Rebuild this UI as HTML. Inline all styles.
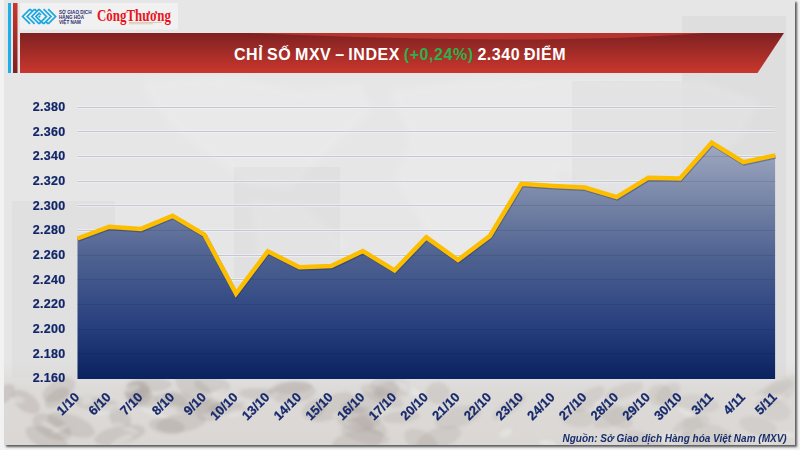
<!DOCTYPE html>
<html><head><meta charset="utf-8"><style>
html,body{margin:0;padding:0;}
body{width:800px;height:450px;overflow:hidden;position:relative;background:#f2f2f2;font-family:"Liberation Sans",sans-serif;}
.card{position:absolute;left:4px;top:0;width:791px;height:445px;background:#e6e6e6;box-shadow:2px 2px 2px rgba(0,0,0,0.62);}
.bb{position:absolute;left:8px;top:3px;width:3px;height:70px;background:#1cb0ea;}
.rb{position:absolute;left:13px;top:3px;width:4.5px;height:70px;background:linear-gradient(#c93a30,#7a1e1e);}
.title{position:absolute;left:234px;top:45.5px;font-size:16px;font-weight:bold;color:#fff;white-space:nowrap;letter-spacing:0.55px;word-spacing:-1.2px;}
.title span{color:#2ab24c;}
svg{position:absolute;left:0;top:0;}
.src{position:absolute;left:562.5px;top:433px;font-size:10px;font-weight:bold;font-style:italic;color:#1a2e6c;white-space:nowrap;}
</style></head><body>
<div class="card"></div>
<svg width="800" height="450" viewBox="0 0 800 450">
<defs><clipPath id="cardclip"><rect x="4" y="0" width="791" height="445"/></clipPath><filter id="blur15" x="-20%" y="-20%" width="140%" height="140%"><feGaussianBlur stdDeviation="1.5"/></filter><clipPath id="areaclip"><polygon points="77.5,379.0 77.5,238.5 109.2,226.7 140.9,228.9 172.6,215.8 204.3,234.5 236.0,293.6 267.8,251.3 299.5,267.2 331.2,266.0 362.9,251.0 394.6,270.3 426.3,237.3 458.0,260.0 489.7,236.1 521.4,183.8 553.1,186.0 584.8,187.6 616.6,197.1 648.3,177.7 680.0,178.4 711.7,142.6 743.4,162.2 775.1,155.4 775.1,379.0"/></clipPath><filter id="blur2" x="-10%" y="-10%" width="120%" height="120%"><feGaussianBlur stdDeviation="3"/></filter><filter id="blur05" x="-5%" y="-50%" width="110%" height="200%"><feGaussianBlur stdDeviation="0.4"/></filter>
<linearGradient id="hdr" x1="0" y1="0" x2="0" y2="1"><stop offset="0" stop-color="#7e2121"/><stop offset="1" stop-color="#ca372e"/></linearGradient>
<linearGradient id="fill" gradientUnits="userSpaceOnUse" x1="0" y1="140" x2="0" y2="378"><stop offset="0" stop-color="#a2abc3"/><stop offset="0.25" stop-color="#7785a7"/><stop offset="0.5" stop-color="#4d6190"/><stop offset="0.76" stop-color="#2b4280"/><stop offset="1" stop-color="#0a2260"/></linearGradient>
<linearGradient id="bot" x1="0" y1="0" x2="0" y2="1"><stop offset="0" stop-color="#dad7d4" stop-opacity="0"/><stop offset="0.35" stop-color="#dad7d4" stop-opacity="0.8"/><stop offset="1" stop-color="#dad7d4" stop-opacity="1"/></linearGradient>
</defs>
<g filter="url(#blur2)" fill="#ffffff" opacity="0.14">
<path d="M140,80 L230,76 L300,90 L360,84 L372,110 L330,150 L290,190 L250,186 L215,160 L175,130 L150,100 Z"/>
<path d="M250,200 L300,205 L345,240 L320,300 L290,340 L270,320 L258,260 Z"/>
<path d="M390,90 L470,80 L560,78 L700,80 L760,100 L740,140 L700,170 L650,200 L600,190 L560,170 L540,240 L500,310 L460,300 L420,220 L395,180 L410,140 Z"/>
<path d="M640,270 L700,262 L720,300 L690,330 L650,320 Z"/>
</g>
<g fill="#000">
<rect x="682" y="16" width="104" height="362" opacity="0.03"/>
<rect x="572" y="81" width="110" height="297" opacity="0.022"/>
<rect x="234" y="167" width="106" height="211" opacity="0.022"/>
<rect x="12" y="201" width="103" height="177" opacity="0.022"/>
</g>
<rect x="4" y="360" width="791" height="85" fill="url(#bot)"/><g clip-path="url(#cardclip)" filter="url(#blur15)" fill="#8a7f76"><ellipse cx="260" cy="394" rx="21" ry="6" transform="rotate(3 260 394)" opacity="0.17"/><ellipse cx="293" cy="388" rx="19" ry="6" transform="rotate(-5 293 388)" opacity="0.16"/><ellipse cx="59" cy="390" rx="18" ry="10" transform="rotate(-30 59 390)" opacity="0.19"/><ellipse cx="181" cy="423" rx="25" ry="9" transform="rotate(-8 181 423)" opacity="0.18"/><ellipse cx="776" cy="388" rx="24" ry="7" transform="rotate(-28 776 388)" opacity="0.10"/><ellipse cx="97" cy="404" rx="23" ry="7" transform="rotate(7 97 404)" opacity="0.19"/><ellipse cx="509" cy="407" rx="20" ry="6" transform="rotate(-35 509 407)" opacity="0.14"/><ellipse cx="167" cy="426" rx="18" ry="8" transform="rotate(7 167 426)" opacity="0.18"/><ellipse cx="362" cy="403" rx="23" ry="9" transform="rotate(-20 362 403)" opacity="0.15"/><ellipse cx="458" cy="417" rx="24" ry="10" transform="rotate(-17 458 417)" opacity="0.14"/><ellipse cx="779" cy="392" rx="18" ry="10" transform="rotate(-28 779 392)" opacity="0.10"/><ellipse cx="391" cy="387" rx="21" ry="10" transform="rotate(6 391 387)" opacity="0.15"/><ellipse cx="697" cy="404" rx="22" ry="9" transform="rotate(6 697 404)" opacity="0.11"/><ellipse cx="365" cy="435" rx="25" ry="8" transform="rotate(13 365 435)" opacity="0.15"/><ellipse cx="52" cy="427" rx="21" ry="11" transform="rotate(26 52 427)" opacity="0.19"/><ellipse cx="229" cy="408" rx="21" ry="6" transform="rotate(-3 229 408)" opacity="0.17"/><ellipse cx="137" cy="392" rx="13" ry="10" transform="rotate(-30 137 392)" opacity="0.18"/><ellipse cx="200" cy="408" rx="24" ry="6" transform="rotate(-4 200 408)" opacity="0.18"/><ellipse cx="439" cy="438" rx="23" ry="10" transform="rotate(-18 439 438)" opacity="0.15"/><ellipse cx="332" cy="407" rx="24" ry="11" transform="rotate(-28 332 407)" opacity="0.16"/><ellipse cx="143" cy="399" rx="15" ry="8" transform="rotate(7 143 399)" opacity="0.18"/><ellipse cx="212" cy="385" rx="18" ry="8" transform="rotate(5 212 385)" opacity="0.17"/><ellipse cx="758" cy="426" rx="19" ry="9" transform="rotate(14 758 426)" opacity="0.11"/><ellipse cx="47" cy="439" rx="23" ry="10" transform="rotate(24 47 439)" opacity="0.19"/><ellipse cx="314" cy="409" rx="13" ry="9" transform="rotate(-35 314 409)" opacity="0.16"/><ellipse cx="57" cy="398" rx="14" ry="8" transform="rotate(-36 57 398)" opacity="0.19"/><ellipse cx="4" cy="394" rx="13" ry="8" transform="rotate(-38 4 394)" opacity="0.20"/><ellipse cx="696" cy="422" rx="14" ry="7" transform="rotate(-12 696 422)" opacity="0.11"/><ellipse cx="292" cy="392" rx="24" ry="11" transform="rotate(-3 292 392)" opacity="0.16"/><ellipse cx="387" cy="390" rx="13" ry="8" transform="rotate(-19 387 390)" opacity="0.15"/><ellipse cx="660" cy="395" rx="12" ry="11" transform="rotate(2 660 395)" opacity="0.12"/><ellipse cx="120" cy="418" rx="12" ry="9" transform="rotate(38 120 418)" opacity="0.19"/><ellipse cx="687" cy="427" rx="16" ry="8" transform="rotate(-27 687 427)" opacity="0.11"/><ellipse cx="615" cy="417" rx="23" ry="8" transform="rotate(-22 615 417)" opacity="0.12"/><ellipse cx="646" cy="444" rx="24" ry="10" transform="rotate(25 646 444)" opacity="0.12"/><ellipse cx="589" cy="399" rx="19" ry="8" transform="rotate(-38 589 399)" opacity="0.13"/><ellipse cx="26" cy="402" rx="16" ry="9" transform="rotate(37 26 402)" opacity="0.20"/><ellipse cx="358" cy="441" rx="26" ry="11" transform="rotate(-11 358 441)" opacity="0.16"/><ellipse cx="178" cy="399" rx="15" ry="7" transform="rotate(10 178 399)" opacity="0.18"/><ellipse cx="716" cy="435" rx="19" ry="9" transform="rotate(24 716 435)" opacity="0.11"/><ellipse cx="71" cy="425" rx="25" ry="10" transform="rotate(20 71 425)" opacity="0.19"/><ellipse cx="382" cy="396" rx="23" ry="8" transform="rotate(24 382 396)" opacity="0.15"/><ellipse cx="773" cy="409" rx="18" ry="11" transform="rotate(18 773 409)" opacity="0.10"/><ellipse cx="138" cy="393" rx="14" ry="11" transform="rotate(25 138 393)" opacity="0.18"/><ellipse cx="120" cy="435" rx="26" ry="9" transform="rotate(-12 120 435)" opacity="0.19"/><ellipse cx="438" cy="393" rx="12" ry="11" transform="rotate(12 438 393)" opacity="0.15"/><ellipse cx="421" cy="441" rx="18" ry="10" transform="rotate(26 421 441)" opacity="0.15"/><ellipse cx="171" cy="400" rx="16" ry="7" transform="rotate(7 171 400)" opacity="0.18"/><ellipse cx="209" cy="410" rx="14" ry="11" transform="rotate(-12 209 410)" opacity="0.17"/><ellipse cx="366" cy="420" rx="25" ry="8" transform="rotate(33 366 420)" opacity="0.15"/><ellipse cx="401" cy="417" rx="19" ry="6" transform="rotate(-5 401 417)" opacity="0.15"/><ellipse cx="149" cy="385" rx="23" ry="7" transform="rotate(-2 149 385)" opacity="0.18"/><ellipse cx="578" cy="418" rx="17" ry="9" transform="rotate(4 578 418)" opacity="0.13"/><ellipse cx="624" cy="391" rx="20" ry="7" transform="rotate(-18 624 391)" opacity="0.12"/><ellipse cx="615" cy="415" rx="20" ry="10" transform="rotate(33 615 415)" opacity="0.12"/><ellipse cx="355" cy="422" rx="19" ry="9" transform="rotate(15 355 422)" opacity="0.16"/><ellipse cx="362" cy="417" rx="19" ry="11" transform="rotate(16 362 417)" opacity="0.15"/><ellipse cx="697" cy="442" rx="16" ry="9" transform="rotate(35 697 442)" opacity="0.11"/><ellipse cx="668" cy="393" rx="14" ry="8" transform="rotate(-34 668 393)" opacity="0.12"/><ellipse cx="194" cy="389" rx="21" ry="10" transform="rotate(32 194 389)" opacity="0.18"/><ellipse cx="126" cy="428" rx="13" ry="2" transform="rotate(23 126 428)" fill="#fff" opacity="0.25"/><ellipse cx="769" cy="398" rx="16" ry="3" transform="rotate(-1 769 398)" fill="#fff" opacity="0.25"/><ellipse cx="787" cy="435" rx="8" ry="3" transform="rotate(1 787 435)" fill="#fff" opacity="0.25"/><ellipse cx="272" cy="397" rx="9" ry="3" transform="rotate(-29 272 397)" fill="#fff" opacity="0.25"/><ellipse cx="442" cy="411" rx="6" ry="3" transform="rotate(7 442 411)" fill="#fff" opacity="0.25"/><ellipse cx="409" cy="389" rx="16" ry="4" transform="rotate(28 409 389)" fill="#fff" opacity="0.25"/><ellipse cx="87" cy="401" rx="6" ry="4" transform="rotate(-14 87 401)" fill="#fff" opacity="0.25"/><ellipse cx="106" cy="410" rx="15" ry="4" transform="rotate(-14 106 410)" fill="#fff" opacity="0.25"/><ellipse cx="122" cy="440" rx="12" ry="3" transform="rotate(-25 122 440)" fill="#fff" opacity="0.25"/><ellipse cx="50" cy="426" rx="10" ry="2" transform="rotate(26 50 426)" fill="#fff" opacity="0.25"/><ellipse cx="506" cy="433" rx="7" ry="4" transform="rotate(-26 506 433)" fill="#fff" opacity="0.25"/><ellipse cx="686" cy="412" rx="9" ry="3" transform="rotate(26 686 412)" fill="#fff" opacity="0.25"/><ellipse cx="216" cy="393" rx="11" ry="2" transform="rotate(-23 216 393)" fill="#fff" opacity="0.25"/><ellipse cx="132" cy="388" rx="8" ry="3" transform="rotate(-12 132 388)" fill="#fff" opacity="0.25"/><ellipse cx="605" cy="402" rx="11" ry="2" transform="rotate(-9 605 402)" fill="#fff" opacity="0.25"/><ellipse cx="18" cy="400" rx="6" ry="3" transform="rotate(3 18 400)" fill="#fff" opacity="0.25"/><ellipse cx="154" cy="413" rx="15" ry="2" transform="rotate(19 154 413)" fill="#fff" opacity="0.25"/><ellipse cx="346" cy="415" rx="14" ry="3" transform="rotate(0 346 415)" fill="#fff" opacity="0.25"/><ellipse cx="548" cy="444" rx="9" ry="4" transform="rotate(12 548 444)" fill="#fff" opacity="0.25"/><ellipse cx="507" cy="409" rx="9" ry="2" transform="rotate(-22 507 409)" fill="#fff" opacity="0.25"/><ellipse cx="60" cy="429" rx="9" ry="2" transform="rotate(-25 60 429)" fill="#fff" opacity="0.25"/><ellipse cx="669" cy="437" rx="13" ry="3" transform="rotate(-15 669 437)" fill="#fff" opacity="0.25"/><ellipse cx="236" cy="413" rx="8" ry="3" transform="rotate(-14 236 413)" fill="#fff" opacity="0.25"/><ellipse cx="765" cy="443" rx="11" ry="2" transform="rotate(28 765 443)" fill="#fff" opacity="0.25"/><ellipse cx="249" cy="406" rx="6" ry="3" transform="rotate(-2 249 406)" fill="#fff" opacity="0.25"/></g>
<rect x="8" y="3" width="3" height="70" fill="#1cb0ea"/>
<rect x="13" y="3" width="4.5" height="70" fill="url(#hdr)" transform="rotate(180 15.25 38)"/>
<rect x="20" y="3" width="158" height="26.5" fill="#f1f1f1"/>
<g fill="none" stroke="#1aa6e2" stroke-width="1.7"><polyline points="30.0,9.1 22.6,16.5 30.0,23.9"/><polyline points="30.0,9.1 32.3,11.4"/><polyline points="34.6,9.1 27.2,16.5 34.6,23.9"/><polyline points="34.6,9.1 36.9,11.4"/><polyline points="39.2,9.1 31.8,16.5 39.2,23.9"/><polyline points="48.2,9.1 55.6,16.5 48.2,23.9"/><polyline points="48.2,23.9 45.9,21.6"/><polyline points="43.6,9.1 51.0,16.5 43.6,23.9"/><polyline points="43.6,23.9 41.3,21.6"/><polyline points="39.0,9.1 46.4,16.5 39.0,23.9"/><polyline points="41,15 39.2,13.2 35.9,16.5 39.2,19.8 41.3,21.9"/><circle cx="39.4" cy="16.6" r="1.1" fill="#1aa6e2" stroke="none"/></g>
<g font-family="Liberation Sans" font-size="5" fill="#2b2d6e" font-weight="bold">
<text x="59" y="13.6" transform="translate(59 0) scale(0.92 1) translate(-59 0)">SỞ GIAO DỊCH</text>
<text x="59" y="18.6" transform="translate(59 0) scale(0.92 1) translate(-59 0)">HÀNG HÓA</text>
<text x="59" y="23.6" transform="translate(59 0) scale(0.92 1) translate(-59 0)">VIỆT NAM</text>
</g>
<text x="97" y="21.3" font-family="Liberation Serif" font-weight="bold" font-size="17.5" fill="#e6151c" transform="translate(97 0) scale(0.74 1) translate(-97 0)">CôngThương</text>
<rect x="129" y="22" width="33" height="0.8" fill="#c9a37a" opacity="0.6"/>
<rect x="129" y="23.4" width="24" height="0.8" fill="#c9a37a" opacity="0.6"/>
<polygon points="20,33 784,33 757.5,73 20,73" fill="url(#hdr)"/>
<path d="M250,33 Q540,46 705,33 Z" fill="#c03830" opacity="0.85" filter="url(#blur05)"/>

<g stroke="#f4f4f4" stroke-width="3" opacity="0.6"><line x1="77.5" y1="107.5" x2="775.1" y2="107.5"/><line x1="77.5" y1="131.5" x2="775.1" y2="131.5"/><line x1="77.5" y1="156.5" x2="775.1" y2="156.5"/><line x1="77.5" y1="181.5" x2="775.1" y2="181.5"/><line x1="77.5" y1="205.5" x2="775.1" y2="205.5"/><line x1="77.5" y1="230.5" x2="775.1" y2="230.5"/><line x1="77.5" y1="255.5" x2="775.1" y2="255.5"/><line x1="77.5" y1="279.5" x2="775.1" y2="279.5"/><line x1="77.5" y1="304.5" x2="775.1" y2="304.5"/><line x1="77.5" y1="329.5" x2="775.1" y2="329.5"/><line x1="77.5" y1="353.5" x2="775.1" y2="353.5"/></g><g stroke="#c3c8d5" stroke-width="1"><line x1="77.5" y1="107.5" x2="775.1" y2="107.5"/><line x1="77.5" y1="131.5" x2="775.1" y2="131.5"/><line x1="77.5" y1="156.5" x2="775.1" y2="156.5"/><line x1="77.5" y1="181.5" x2="775.1" y2="181.5"/><line x1="77.5" y1="205.5" x2="775.1" y2="205.5"/><line x1="77.5" y1="230.5" x2="775.1" y2="230.5"/><line x1="77.5" y1="255.5" x2="775.1" y2="255.5"/><line x1="77.5" y1="279.5" x2="775.1" y2="279.5"/><line x1="77.5" y1="304.5" x2="775.1" y2="304.5"/><line x1="77.5" y1="329.5" x2="775.1" y2="329.5"/><line x1="77.5" y1="353.5" x2="775.1" y2="353.5"/></g>
<polygon points="77.5,379.0 77.5,238.5 109.2,226.7 140.9,228.9 172.6,215.8 204.3,234.5 236.0,293.6 267.8,251.3 299.5,267.2 331.2,266.0 362.9,251.0 394.6,270.3 426.3,237.3 458.0,260.0 489.7,236.1 521.4,183.8 553.1,186.0 584.8,187.6 616.6,197.1 648.3,177.7 680.0,178.4 711.7,142.6 743.4,162.2 775.1,155.4 775.1,379.0" fill="url(#fill)"/>
<g stroke="#000" stroke-width="1" opacity="0.09" clip-path="url(#areaclip)"><line x1="77.5" y1="107.5" x2="775.1" y2="107.5"/><line x1="77.5" y1="131.5" x2="775.1" y2="131.5"/><line x1="77.5" y1="156.5" x2="775.1" y2="156.5"/><line x1="77.5" y1="181.5" x2="775.1" y2="181.5"/><line x1="77.5" y1="205.5" x2="775.1" y2="205.5"/><line x1="77.5" y1="230.5" x2="775.1" y2="230.5"/><line x1="77.5" y1="255.5" x2="775.1" y2="255.5"/><line x1="77.5" y1="279.5" x2="775.1" y2="279.5"/><line x1="77.5" y1="304.5" x2="775.1" y2="304.5"/><line x1="77.5" y1="329.5" x2="775.1" y2="329.5"/><line x1="77.5" y1="353.5" x2="775.1" y2="353.5"/></g>
<polyline points="77.5,238.5 109.2,226.7 140.9,228.9 172.6,215.8 204.3,234.5 236.0,293.6 267.8,251.3 299.5,267.2 331.2,266.0 362.9,251.0 394.6,270.3 426.3,237.3 458.0,260.0 489.7,236.1 521.4,183.8 553.1,186.0 584.8,187.6 616.6,197.1 648.3,177.7 680.0,178.4 711.7,142.6 743.4,162.2 775.1,155.4" fill="none" stroke="#1c2c5a" stroke-opacity="0.35" stroke-width="4.5" stroke-linejoin="miter" transform="translate(0.6,1.2)"/>
<polyline points="77.5,238.5 109.2,226.7 140.9,228.9 172.6,215.8 204.3,234.5 236.0,293.6 267.8,251.3 299.5,267.2 331.2,266.0 362.9,251.0 394.6,270.3 426.3,237.3 458.0,260.0 489.7,236.1 521.4,183.8 553.1,186.0 584.8,187.6 616.6,197.1 648.3,177.7 680.0,178.4 711.7,142.6 743.4,162.2 775.1,155.4" fill="none" stroke="#fdbe00" stroke-width="4.5" stroke-linejoin="miter"/>
<g font-family="Liberation Sans" font-weight="bold" font-size="12.5" letter-spacing="0.3" fill="#112568" stroke="#112568" stroke-width="0.2" text-anchor="end"><text x="65.6" y="111.1">2.380</text><text x="65.6" y="135.7">2.360</text><text x="65.6" y="160.4">2.340</text><text x="65.6" y="185.0">2.320</text><text x="65.6" y="209.7">2.300</text><text x="65.6" y="234.3">2.280</text><text x="65.6" y="258.9">2.260</text><text x="65.6" y="283.6">2.240</text><text x="65.6" y="308.2">2.220</text><text x="65.6" y="332.9">2.200</text><text x="65.6" y="357.5">2.180</text><text x="65.6" y="382.1">2.160</text></g>
<g font-family="Liberation Sans" font-weight="bold" font-size="13" fill="#16296c" stroke="#16296c" stroke-width="0.25" text-anchor="end"><text transform="translate(80.0,398) rotate(-45)">1/10</text><text transform="translate(111.7,398) rotate(-45)">6/10</text><text transform="translate(143.4,398) rotate(-45)">7/10</text><text transform="translate(175.1,398) rotate(-45)">8/10</text><text transform="translate(206.8,398) rotate(-45)">9/10</text><text transform="translate(238.5,398) rotate(-45)">10/10</text><text transform="translate(270.3,398) rotate(-45)">13/10</text><text transform="translate(302.0,398) rotate(-45)">14/10</text><text transform="translate(333.7,398) rotate(-45)">15/10</text><text transform="translate(365.4,398) rotate(-45)">16/10</text><text transform="translate(397.1,398) rotate(-45)">17/10</text><text transform="translate(428.8,398) rotate(-45)">20/10</text><text transform="translate(460.5,398) rotate(-45)">21/10</text><text transform="translate(492.2,398) rotate(-45)">22/10</text><text transform="translate(523.9,398) rotate(-45)">23/10</text><text transform="translate(555.6,398) rotate(-45)">24/10</text><text transform="translate(587.3,398) rotate(-45)">27/10</text><text transform="translate(619.1,398) rotate(-45)">28/10</text><text transform="translate(650.8,398) rotate(-45)">29/10</text><text transform="translate(682.5,398) rotate(-45)">30/10</text><text transform="translate(714.2,398) rotate(-45)">3/11</text><text transform="translate(745.9,398) rotate(-45)">4/11</text><text transform="translate(777.6,398) rotate(-45)">5/11</text></g>
</svg>
<div class="title">CHỈ SỐ MXV – INDEX <span>(+0,24%)</span> 2.340 ĐIỂM</div>
<div class="src">Nguồn: Sở Giao dịch Hàng hóa Việt Nam (MXV)</div>
</body></html>
